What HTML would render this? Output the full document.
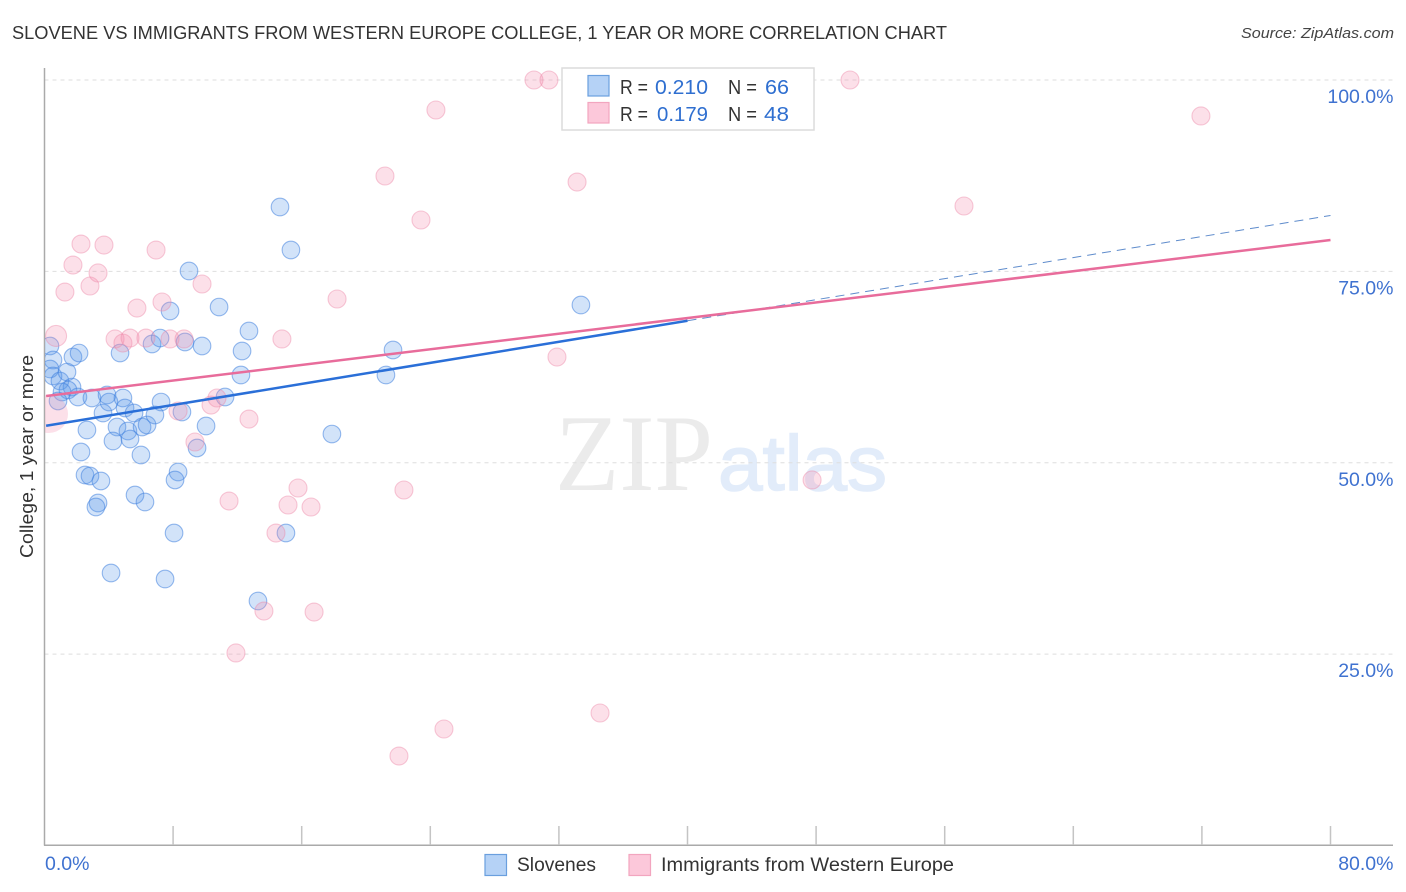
<!DOCTYPE html>
<html lang="en">
<head>
<meta charset="utf-8">
<title>Slovene vs Immigrants from Western Europe College Correlation Chart</title>
<style>
html,body{margin:0;padding:0;background:#fff;width:1406px;height:892px;overflow:hidden}
svg{display:block;font-family:"Liberation Sans",sans-serif}
</style>
</head>
<body>
<svg id="chart" width="1406" height="892" viewBox="0 0 1406 892" xmlns="http://www.w3.org/2000/svg">
  <defs>
    <clipPath id="plot-clip"><rect x="45" y="60" width="1350" height="785"/></clipPath>
  </defs>
  <rect x="0" y="0" width="1406" height="892" fill="#fff"/>
  <text x="12" y="39" font-size="18.5" fill="#333" textLength="935" lengthAdjust="spacingAndGlyphs">SLOVENE VS IMMIGRANTS FROM WESTERN EUROPE COLLEGE, 1 YEAR OR MORE CORRELATION CHART</text>
  <text x="1394" y="38" font-size="15" font-style="italic" fill="#444" text-anchor="end" textLength="153" lengthAdjust="spacingAndGlyphs">Source: ZipAtlas.com</text>

  <g>
    <text x="555" y="490" font-family="'Liberation Serif',serif" font-size="109" fill="#ebebeb" textLength="158" lengthAdjust="spacingAndGlyphs">ZIP</text>
    <text x="718" y="490" font-size="78" fill="#e2ecfa" stroke="#e2ecfa" stroke-width="1.5" textLength="169" lengthAdjust="spacingAndGlyphs">atlas</text>
  </g>

  <g id="grid"></g>
  <g id="axes"></g>
  <g id="points" clip-path="url(#plot-clip)"></g>
  <g id="trends"></g>
  <g id="ticklabels"></g>

  <text transform="translate(33,558) rotate(-90)" font-size="18.5" fill="#333" textLength="203" lengthAdjust="spacingAndGlyphs">College, 1 year or more</text>

  <g>
    <rect x="562" y="68" width="252" height="62" fill="#fff" stroke="#dcdcdc" stroke-width="1.5"/>
    <rect x="588" y="75.5" width="21" height="20.5" fill="#b5d2f6" stroke="#6a9fde" stroke-width="1.2"/>
    <rect x="588" y="102.5" width="21" height="20.5" fill="#fcc8da" stroke="#f2a5bf" stroke-width="1.2"/>
    <g font-size="20">
      <text x="620" y="94" fill="#333" textLength="28" lengthAdjust="spacingAndGlyphs">R =</text>
      <text x="655" y="94" fill="#2f6fd0" textLength="53" lengthAdjust="spacingAndGlyphs">0.210</text>
      <text x="728" y="94" fill="#333" textLength="29" lengthAdjust="spacingAndGlyphs">N =</text>
      <text x="765" y="94" fill="#2f6fd0" textLength="24" lengthAdjust="spacingAndGlyphs">66</text>
      <text x="620" y="121" fill="#333" textLength="28" lengthAdjust="spacingAndGlyphs">R =</text>
      <text x="657" y="121" fill="#2f6fd0" textLength="51" lengthAdjust="spacingAndGlyphs">0.179</text>
      <text x="728" y="121" fill="#333" textLength="29" lengthAdjust="spacingAndGlyphs">N =</text>
      <text x="764" y="121" fill="#2f6fd0" textLength="25" lengthAdjust="spacingAndGlyphs">48</text>
    </g>
  </g>

  <g>
    <rect x="485" y="854.5" width="21.5" height="21" fill="#b5d2f6" stroke="#6a9fde" stroke-width="1.2"/>
    <text x="517" y="871" font-size="19" fill="#333" textLength="79" lengthAdjust="spacingAndGlyphs">Slovenes</text>
    <rect x="629" y="854.5" width="21.5" height="21" fill="#fcc8da" stroke="#f2a5bf" stroke-width="1.2"/>
    <text x="661" y="871" font-size="19" fill="#333" textLength="293" lengthAdjust="spacingAndGlyphs">Immigrants from Western Europe</text>
  </g>
</svg>
<script>
// ---- data (percent values) ----
const slovenesX = [0.34,0.53,0.34,0.53,0.96,1.40,1.71,1.46,1.09,0.84,2.08,1.77,2.15,2.64,2.95,2.27,2.52,2.83,3.51,3.33,3.20,4.14,3.64,3.89,4.01,4.88,4.70,5.01,4.51,5.19,4.26,5.32,5.57,6.00,6.07,6.38,5.63,6.25,6.87,7.25,6.69,7.19,7.81,8.55,8.74,8.31,8.12,8.06,7.50,8.99,9.80,9.49,10.05,11.23,10.86,12.29,12.22,12.72,13.28,14.65,15.02,15.33,17.88,21.24,21.68,33.37];
const slovenesY = [65.25,63.42,62.25,61.33,60.68,61.85,59.89,59.50,59.24,58.07,58.59,63.81,64.33,54.28,58.46,51.40,48.40,48.27,47.62,44.74,44.22,35.60,56.50,58.85,57.93,58.46,64.33,57.15,54.67,54.15,52.84,53.10,56.50,51.01,54.67,54.93,45.79,44.87,56.24,57.93,65.51,66.29,69.82,56.63,65.77,48.79,47.75,40.82,34.81,75.05,65.25,51.93,54.80,58.59,70.34,64.60,61.46,67.21,31.94,83.41,40.82,77.79,53.75,61.46,64.73,70.61];
const immigrantsX = [0.72,0.28,1.27,1.77,2.27,2.83,3.33,3.70,4.39,4.88,5.32,5.75,6.31,6.94,7.31,7.81,8.68,8.31,9.36,9.80,10.36,10.73,11.48,11.91,12.72,13.65,14.40,14.77,15.15,15.77,16.58,16.77,18.20,21.18,22.05,22.36,23.42,24.35,24.85,30.45,31.38,31.88,33.13,34.56,47.75,50.11,57.20,71.94];
const immigrantsY = [66.56,56.37,72.30,75.83,78.57,73.09,74.79,78.44,66.17,65.64,66.29,70.21,66.29,77.79,71.00,66.17,66.17,56.76,52.71,73.35,57.54,58.46,45.00,25.15,55.71,30.63,40.82,66.17,44.48,46.70,44.22,30.50,71.39,87.46,11.69,46.44,81.71,96.08,15.22,100,100,63.81,86.67,17.31,47.75,100,83.54,95.30];
// relative sample weight of each immigrant point (marks without an entry weigh 1)
const immigrantsWeight = [1.36,4.46];
const slovenesTrend = [54.8,82.3];
const immigrantsTrend = [58.7,79.1];
const slovenesObservedMaxX = 40;
const xTicks = [0,8,16,24,32,40,48,56,64,72,80];
const xTickLabels = ['0.0%','80.0%'];
const xLabelValues = [0,80];
const yTicks = [100,75,50,25];
const yTickLabels = ['100.0%','75.0%','50.0%','25.0%'];

// ---- axis functions ----
function xScale(v){ return 44.5 + v * 16.075; }
function yScale(v){ return 845.5 - v * 7.655; }

const NS = 'http://www.w3.org/2000/svg';
function mk(tag, attrs, parent){
  const el = document.createElementNS(NS, tag);
  for (const k in attrs) el.setAttribute(k, attrs[k]);
  parent.appendChild(el);
  return el;
}
const grid = document.getElementById('grid');
const axes = document.getElementById('axes');
const points = document.getElementById('points');
const trends = document.getElementById('trends');
const tickLabels = document.getElementById('ticklabels');

// gridlines & y labels
yTicks.forEach(function(t,i){
  const line = mk('line',{x1:44.5,x2:1393,y1:yScale(t),y2:yScale(t),stroke:'#dedede','stroke-width':1,'stroke-dasharray':'4 4'},grid);
  
  
  const label = mk('text',{x:1393.5,y:yScale(t)+23,'font-size':19.5,fill:'#3f72d0','text-anchor':'end'},tickLabels);
  label.textContent = yTickLabels[i];
  
  
});

// axes
const yAxis = mk('line',{x1:44.5,x2:44.5,y1:68,y2:845.5,stroke:'#aaa','stroke-width':1.5},axes);


const xAxis = mk('line',{x1:44,x2:1393,y1:845.2,y2:845.2,stroke:'#aaa','stroke-width':1.5},axes);


xTicks.slice(1).forEach(function(t){
  const tick = mk('line',{x1:xScale(t),x2:xScale(t),y1:826,y2:845,stroke:'#c4c4c4','stroke-width':1.5},axes);
  
  
});
xLabelValues.forEach(function(t,i){
  const label = mk('text',{x:i===0?xScale(t)+0.5:1393.5,y:870,'font-size':19.5,fill:'#3f72d0','text-anchor':i===0?'start':'end'},tickLabels);
  label.textContent = xTickLabels[i];
  
  
});

// points
slovenesX.forEach(function(x,i){
  const c = mk('circle',{cx:xScale(x),cy:yScale(slovenesY[i]),r:8.8,fill:'rgba(90,150,232,0.27)',stroke:'rgba(66,130,222,0.55)','stroke-width':1.1},points);
  
  
});
immigrantsX.forEach(function(x,i){
  const w = immigrantsWeight[i] === undefined ? 1 : immigrantsWeight[i];
  const c = mk('circle',{cx:xScale(x),cy:yScale(immigrantsY[i]),r:9*Math.sqrt(w),fill:'rgba(244,140,172,0.27)',stroke:'rgba(236,130,165,0.42)','stroke-width':w>2?0:1.1},points);
  
  
});

// trend lines
function trendY(t,x){ return t[0] + (t[1]-t[0]) * x / 80; }
const dash = mk('line',{x1:xScale(slovenesObservedMaxX),y1:yScale(trendY(slovenesTrend,slovenesObservedMaxX)),x2:xScale(80),y2:yScale(trendY(slovenesTrend,80)),stroke:'#5f8ccc','stroke-width':1,'stroke-dasharray':'9 6'},trends);


const blue = mk('line',{x1:xScale(0.1),y1:yScale(trendY(slovenesTrend,0.1)),x2:xScale(slovenesObservedMaxX),y2:yScale(trendY(slovenesTrend,slovenesObservedMaxX)),stroke:'#2a6fd8','stroke-width':2.5},trends);


const pink = mk('line',{x1:xScale(0.1),y1:yScale(trendY(immigrantsTrend,0.1)),x2:xScale(80),y2:yScale(trendY(immigrantsTrend,80)),stroke:'#e86c9b','stroke-width':2.5},trends);


</script>
</body>
</html>
